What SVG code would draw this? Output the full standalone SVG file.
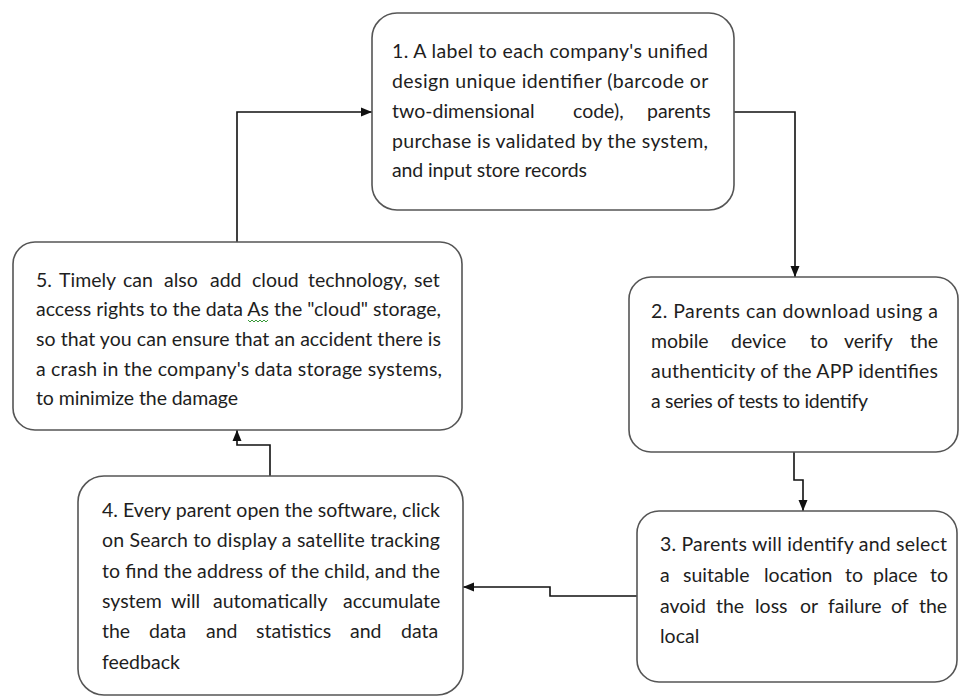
<svg xmlns="http://www.w3.org/2000/svg" width="960" height="698" viewBox="0 0 960 698">
  <defs>
    <marker id="arrow" markerUnits="userSpaceOnUse" markerWidth="12" markerHeight="10" refX="11" refY="5" orient="auto">
      <path d="M0,0.5 L11,5 L0,9.5 z" fill="#111"/>
    </marker>
  </defs>
  <style>
    .box { fill: #fff; stroke: #555; stroke-width: 1.6; }
    .txt { font-family: Lato, "Liberation Sans", sans-serif; font-size: 19.5px; fill: #1e1e1e; }
    .conn { fill: none; stroke: #111; stroke-width: 1.6; marker-end: url(#arrow); }
    .squiggle { fill: none; stroke: #3a9a3a; stroke-width: 1; }
  </style>
  <rect width="960" height="698" fill="#fff"/>

  <!-- connectors -->
  <g id="connectors">
    <path class="conn" d="M237,242 V112 H372"/>
    <path class="conn" d="M734,112 H795 V277"/>
    <path class="conn" d="M794,452 V480 H803 V511"/>
    <path class="conn" d="M637,596 H550 V587 H463"/>
    <path class="conn" d="M270,476 V445 H237 V430"/>
  </g>

  <!-- step 1 -->
  <g id="step1">
    <rect class="box" x="372" y="13" width="362" height="197" rx="25"/>
    <text class="txt">
      <tspan x="392" y="58" textLength="316" lengthAdjust="spacing">1. A label to each company's unified</tspan>
      <tspan x="392" y="88" textLength="316" lengthAdjust="spacing">design unique identifier (barcode or</tspan>
      <tspan x="392" y="118">two-dimensional</tspan><tspan x="573" y="118">code),</tspan><tspan x="647" y="118">parents</tspan>
      <tspan x="392" y="148" textLength="316" lengthAdjust="spacing">purchase is validated by the system,</tspan>
      <tspan x="392" y="177" textLength="195" lengthAdjust="spacing">and input store records</tspan>
    </text>
  </g>

  <!-- step 2 -->
  <g id="step2">
    <rect class="box" x="629" y="277" width="329" height="175" rx="22"/>
    <text class="txt">
      <tspan x="651" y="318" textLength="287" lengthAdjust="spacing">2. Parents can download using a</tspan>
      <tspan x="651" y="348">mobile</tspan><tspan x="731" y="348">device</tspan><tspan x="810" y="348">to</tspan><tspan x="844" y="348">verify</tspan><tspan x="910" y="348">the</tspan>
      <tspan x="651" y="378" textLength="287" lengthAdjust="spacing">authenticity of the APP identifies</tspan>
      <tspan x="651" y="408" textLength="217" lengthAdjust="spacing">a series of tests to identify</tspan>
    </text>
  </g>

  <!-- step 3 -->
  <g id="step3">
    <rect class="box" x="637" y="511" width="320" height="171" rx="22"/>
    <text class="txt">
      <tspan x="660" y="551" textLength="287" lengthAdjust="spacing">3. Parents will identify and select</tspan>
      <tspan x="660" y="582">a</tspan><tspan x="683" y="582">suitable</tspan><tspan x="764" y="582">location</tspan><tspan x="845" y="582">to</tspan><tspan x="873" y="582">place</tspan><tspan x="930" y="582">to</tspan>
      <tspan x="660" y="613">avoid</tspan><tspan x="716" y="613">the</tspan><tspan x="755" y="613">loss</tspan><tspan x="800" y="613">or</tspan><tspan x="828" y="613">failure</tspan><tspan x="891" y="613">of</tspan><tspan x="919" y="613">the</tspan>
      <tspan x="660" y="643">local</tspan>
    </text>
  </g>

  <!-- step 4 -->
  <g id="step4">
    <rect class="box" x="78" y="476" width="385" height="219" rx="26"/>
    <text class="txt">
      <tspan x="102" y="517" textLength="338" lengthAdjust="spacing">4. Every parent open the software, click</tspan>
      <tspan x="102" y="547" textLength="338" lengthAdjust="spacing">on Search to display a satellite tracking</tspan>
      <tspan x="102" y="578" textLength="338" lengthAdjust="spacing">to find the address of the child, and the</tspan>
      <tspan x="102" y="608">system</tspan><tspan x="171" y="608">will</tspan><tspan x="213" y="608">automatically</tspan><tspan x="343" y="608">accumulate</tspan>
      <tspan x="102" y="638">the</tspan><tspan x="149" y="638">data</tspan><tspan x="206" y="638">and</tspan><tspan x="256" y="638">statistics</tspan><tspan x="350" y="638">and</tspan><tspan x="401" y="638">data</tspan>
      <tspan x="102" y="669">feedback</tspan>
    </text>
  </g>

  <!-- step 5 -->
  <g id="step5">
    <rect class="box" x="13" y="242" width="449" height="188" rx="22"/>
    <text class="txt">
      <tspan x="36" y="287">5.</tspan><tspan x="59" y="287">Timely</tspan><tspan x="123" y="287">can</tspan><tspan x="164" y="287">also</tspan><tspan x="210" y="287">add</tspan><tspan x="252" y="287">cloud</tspan><tspan x="308" y="287">technology,</tspan><tspan x="414" y="287">set</tspan>
      <tspan x="36" y="316" textLength="405" lengthAdjust="spacing">access rights to the data As the "cloud" storage,</tspan>
      <tspan x="36" y="346" textLength="405" lengthAdjust="spacing">so that you can ensure that an accident there is</tspan>
      <tspan x="36" y="376" textLength="406" lengthAdjust="spacing">a crash in the company's data storage systems,</tspan>
      <tspan x="36" y="405" textLength="202" lengthAdjust="spacing">to minimize the damage</tspan>
    </text>
    <path class="squiggle" d="M248,320 l2,2 l2,-2 l2,2 l2,-2 l2,2 l2,-2 l2,2 l2,-2 l2,2 l2,-2"/>
  </g>
</svg>
